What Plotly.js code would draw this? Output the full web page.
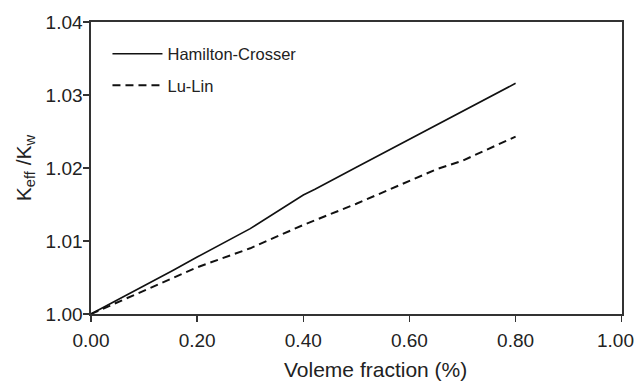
<!DOCTYPE html>
<html>
<head>
<meta charset="utf-8">
<script src="https://cdn.plot.ly/plotly-3.0.1.min.js"></script>
<style>
  html, body { margin: 0; padding: 0; background: #ffffff; }
  #chart { width: 639px; height: 382px; }
</style>
</head>
<body>
<div id="chart"></div>
<script>
// Volume fraction (%) and the effective conductivity ratio from two models
const fractionHC = [0, 0.05, 0.10, 0.155, 0.20, 0.30, 0.40, 0.422, 0.50, 0.60, 0.70, 0.80];
const ratioHC    = [1.0000, 1.0019, 1.0039, 1.0060, 1.0078, 1.0117, 1.0163, 1.0171, 1.0201, 1.0239, 1.0277, 1.0316];

const fractionLL = [0, 0.05, 0.10, 0.155, 0.20, 0.30, 0.40, 0.50, 0.60, 0.65, 0.70, 0.80];
const ratioLL    = [1.0000, 1.0016, 1.0032, 1.0049, 1.0064, 1.0090, 1.0122, 1.0151, 1.0183, 1.0198, 1.0210, 1.0243];

const seriesNames = ['Hamilton-Crosser', 'Lu-Lin'];
const xTicks = [0, 0.2, 0.4, 0.6, 0.8, 1.0];
const yTicks = [1.00, 1.01, 1.02, 1.03, 1.04];

const FONT = '"Liberation Sans", Arial, Helvetica, sans-serif';

// the label of the last x tick is drawn separately, pulled left so it stays on the page
const lastX = xTicks[xTicks.length - 1];
const xTickText = xTicks.map((v, i) => (i === xTicks.length - 1 ? '' : v.toFixed(2)));

const traces = [
  {
    x: fractionHC, y: ratioHC, name: seriesNames[0], legendgroup: 'a',
    type: 'scatter', mode: 'lines',
    line: { color: '#111111', width: 1.6 }
  },
  {
    x: fractionLL, y: ratioLL, name: seriesNames[1], legendgroup: 'b',
    type: 'scatter', mode: 'lines',
    line: { color: '#111111', width: 2, dash: '8px,5px' }
  }
];

const layout = {
  width: 639, height: 382,
  margin: { l: 91, r: 17, t: 22, b: 68, pad: 0 },
  paper_bgcolor: '#ffffff', plot_bgcolor: '#ffffff',
  font: { family: FONT, color: '#222222', size: 18 },
  showlegend: true,
  legend: {
    x: 0.031, y: 0.95, xanchor: 'left', yanchor: 'top',
    bgcolor: 'rgba(0,0,0,0)', borderwidth: 0,
    font: { family: FONT, size: 16.5, color: '#222222' },
    itemwidth: 50, tracegroupgap: 7
  },
  xaxis: {
    range: [0, 1.0005], tickvals: xTicks, ticktext: xTickText,
    showgrid: false, zeroline: false,
    showline: true, linecolor: '#333333', linewidth: 1.6, mirror: true,
    ticks: 'outside', ticklen: 6, tickwidth: 1.4, tickcolor: '#333333',
    tickfont: { family: FONT, size: 19, color: '#222222' },
    ticklabelstandoff: 3, ticklabeloverflow: 'allow'
  },
  yaxis: {
    range: [1.0, 1.04], tickvals: yTicks, ticktext: yTicks.map(v => v.toFixed(2)),
    showgrid: false, zeroline: false,
    showline: true, linecolor: '#333333', linewidth: 1.6, mirror: true,
    ticks: 'outside', ticklen: 6, tickwidth: 1.4, tickcolor: '#333333',
    tickfont: { family: FONT, size: 19, color: '#222222' },
    ticklabelstandoff: -3, ticklabeloverflow: 'allow',
    title: { text: 'K<sub>eff</sub> /K<sub>w</sub>', font: { family: FONT, size: 21, color: '#222222' }, standoff: 8 }
  },
  annotations: [
    {
      text: 'Voleme fraction (%)', xref: 'paper', yref: 'paper',
      x: 0.535, y: -0.19, xanchor: 'center', yanchor: 'middle',
      showarrow: false, font: { family: FONT, size: 21, color: '#222222' }
    },
    {
      text: lastX.toFixed(2), xref: 'x', yref: 'paper',
      x: lastX, xshift: -6, y: -0.092, xanchor: 'center', yanchor: 'middle',
      showarrow: false, font: { family: FONT, size: 19, color: '#222222' }
    }
  ]
};

Plotly.newPlot('chart', traces, layout, { displayModeBar: false, staticPlot: true });
</script>
</body>
</html>
